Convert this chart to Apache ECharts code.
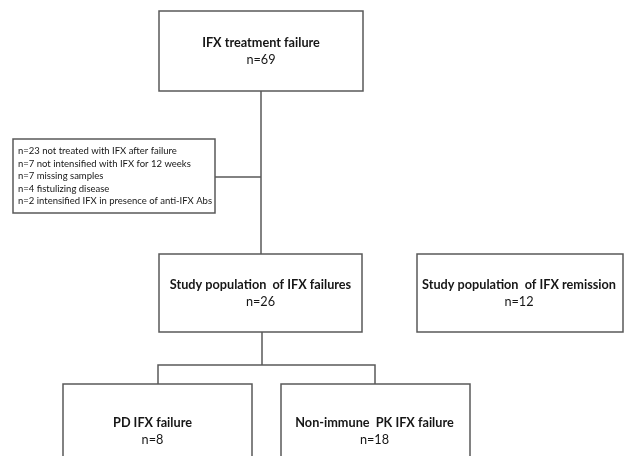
<!DOCTYPE html>
<html>
<head>
<meta charset="utf-8">
<script src="https://cdn.jsdelivr.net/npm/echarts@6/dist/echarts.min.js"></script>
<style>html,body{margin:0;padding:0;background:#fff}#c{width:625px;height:456px}</style>
</head>
<body>
<div id="c"></div>
<script>
// ---- content ----
const boxTitles = ['IFX treatment failure', 'Study population  of IFX failures', 'Study population  of IFX remission', 'PD IFX failure', 'Non-immune  PK IFX failure'];
const boxCounts = [69, 26, 12, 8, 18];
const exclusionCounts = [23, 7, 7, 4, 2];
const exclusionReasons = ['not treated with IFX after failure', 'not intensified with IFX for 12 weeks', 'missing samples', 'fistulizing disease', 'intensified IFX in presence of anti-IFX Abs'];

// ---- layout (diagram units = pixels of the 625x456 canvas) ----
const boxLayout = [[159, 11, 363, 91], [159, 254, 362, 332], [417, 254, 623, 332], [63, 384, 252, 479], [281, 384, 470, 479]];
const textShiftX = [0, 0, -1, -5, -1];
const exclusionBox = [13, 139, 215, 213];
const connectors = [
  [[261, 91], [261, 254]],
  [[215, 177], [261, 177]],
  [[262, 332], [262, 365]],
  [[158, 384], [158, 365], [375, 365], [375, 384]]
];

const FONT = 'Lato';
const LINE = '#595959';
const TXT = '#161616';

const boxData = boxTitles.map((t, i) => [boxLayout[i][0], boxLayout[i][1], boxLayout[i][2], boxLayout[i][3], t, 'n=' + boxCounts[i]]);
const exclText = exclusionCounts.map((n, i) => 'n=' + n + ' ' + exclusionReasons[i]).join('\n');

const chart = echarts.init(document.getElementById('c'), null, {renderer: 'canvas'});
chart.setOption({
  animation: false,
  grid: {left: 0, right: 0, top: 0, bottom: 0},
  xAxis: {type: 'value', min: 0, max: 625, show: false},
  yAxis: {type: 'value', min: 0, max: 456, inverse: true, show: false},
  series: [
    {
      type: 'lines',
      coordinateSystem: 'cartesian2d',
      polyline: true,
      silent: true,
      lineStyle: {color: LINE, width: 1.5, opacity: 1},
      data: connectors.map(c => ({coords: c}))
    },
    {
      type: 'custom',
      silent: true,
      clip: false,
      data: boxData,
      renderItem: function (params, api) {
        const p1 = api.coord([api.value(0), api.value(1)]);
        const p2 = api.coord([api.value(2), api.value(3)]);
        const cx = (p1[0] + p2[0]) / 2 + textShiftX[params.dataIndex], cy = (p1[1] + p2[1]) / 2;
        const d = boxData[params.dataIndex];
        return {
          type: 'group',
          children: [
            {type: 'rect', shape: {x: p1[0], y: p1[1], width: p2[0] - p1[0], height: p2[1] - p1[1]},
             style: {fill: '#fff', stroke: LINE, lineWidth: 1.5}},
            {type: 'text', style: {text: d[4], x: cx, y: cy - 8.5, align: 'center', verticalAlign: 'middle',
             font: 'bold 12.7px ' + FONT, fill: TXT}},
            {type: 'text', style: {text: d[5], x: cx, y: cy + 8.5, align: 'center', verticalAlign: 'middle',
             font: '12.7px ' + FONT, fill: TXT}}
          ]
        };
      }
    },
    {
      type: 'custom',
      silent: true,
      clip: false,
      data: [exclusionBox],
      renderItem: function (params, api) {
        const p1 = api.coord([api.value(0), api.value(1)]);
        const p2 = api.coord([api.value(2), api.value(3)]);
        return {
          type: 'group',
          children: [
            {type: 'rect', shape: {x: p1[0], y: p1[1], width: p2[0] - p1[0], height: p2[1] - p1[1]},
             style: {fill: '#fff', stroke: LINE, lineWidth: 1.5}},
            {type: 'text', style: {text: exclText, x: p1[0] + 5, y: (p1[1] + p2[1]) / 2, align: 'left', verticalAlign: 'middle',
             font: '9.5px ' + FONT, lineHeight: 12.5, fill: TXT}}
          ]
        };
      }
    }
  ]
});
</script>
</body>
</html>
